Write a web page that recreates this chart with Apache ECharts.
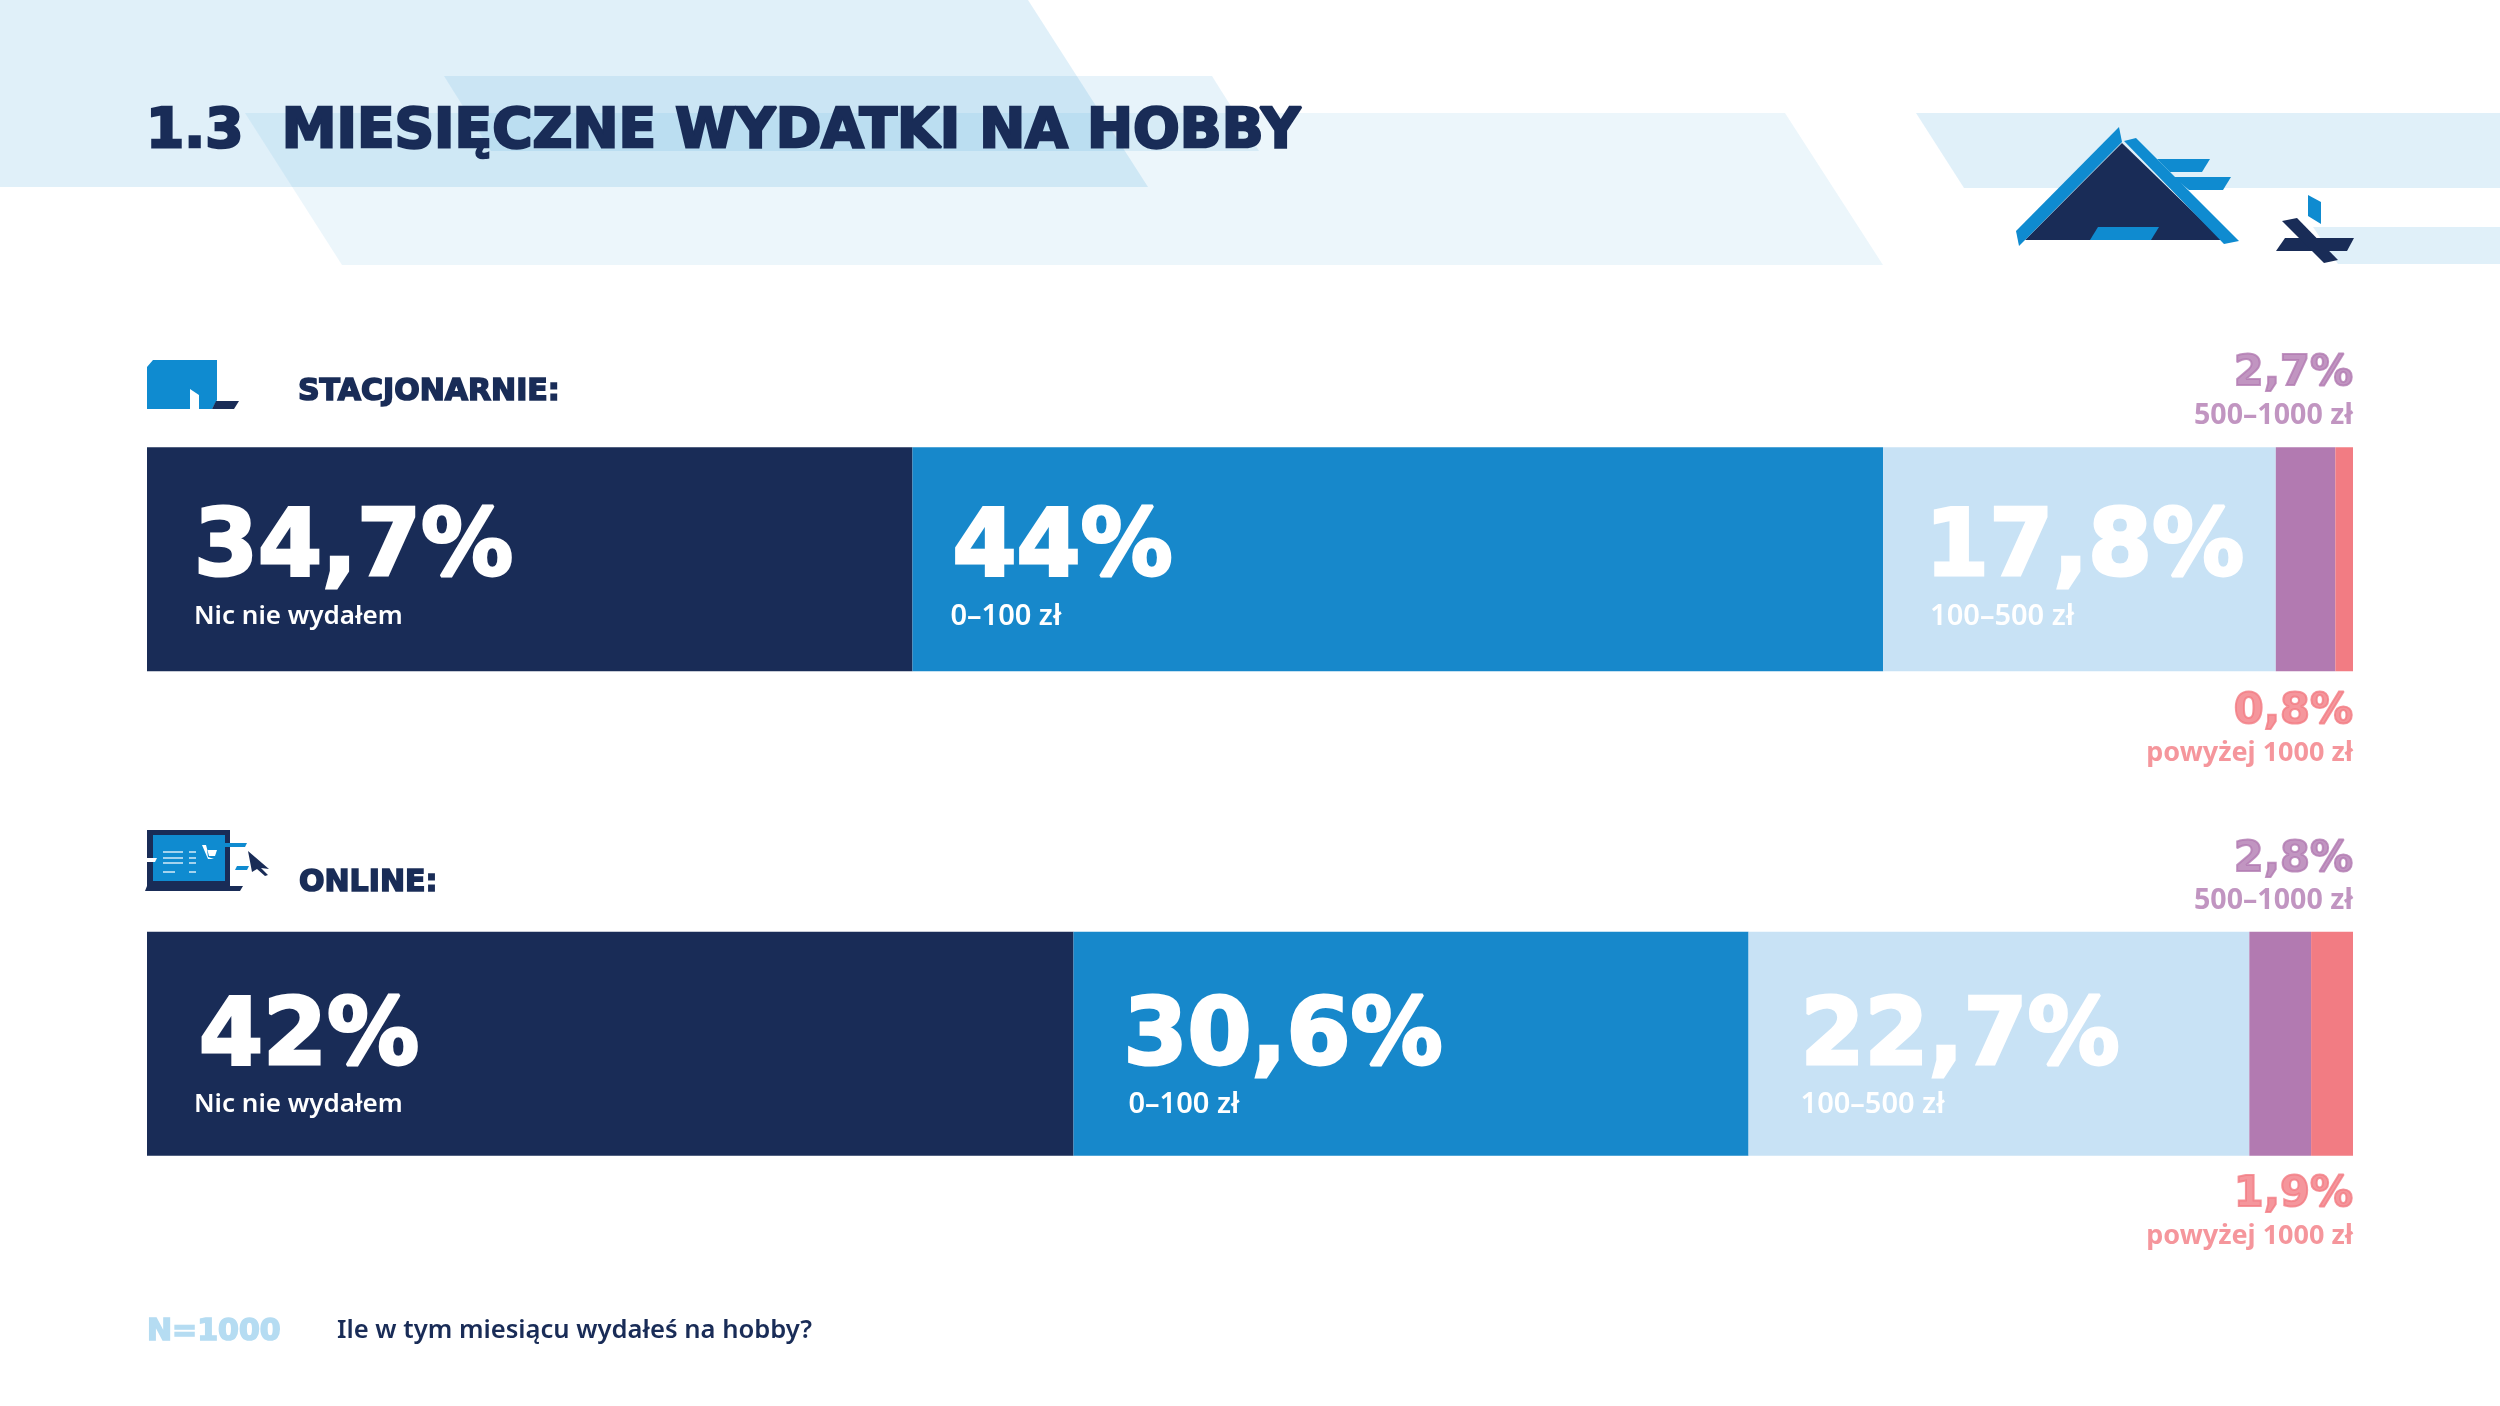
<!DOCTYPE html>
<html>
<head>
<meta charset="utf-8">
<style>html,body{margin:0;padding:0;background:#fff}#chart{width:2500px;height:1406px}</style>
<script src="https://cdn.jsdelivr.net/npm/echarts@6/dist/echarts.min.js"></script>
</head>
<body>
<div id="chart"></div>
<script>
const chartTitle = '1.3  MIESIĘCZNE WYDATKI NA HOBBY';
const rows = ['STACJONARNIE:', 'ONLINE:'];
const rangeNames = ['Nic nie wydałem', '0–100 zł', '100–500 zł', '500–1000 zł', 'powyżej 1000 zł'];
const stacjonarnie = [34.7, 44, 17.8, 2.7, 0.8];
const online = [42, 30.6, 22.7, 2.8, 1.9];
const sampleText = 'N=1000';
const questionText = 'Ile w tym miesiącu wydałeś na hobby?';

const colors = ['#192c57', '#1788cb', '#c8e2f5', '#b27ab1', '#f27c83'];
const NAVY = '#192c57';
const ICON_BLUE = '#0f8bd0';
const DISPLAY_FONT = '"DejaVu Sans"';
const BODY_FONT = '"Noto Sans"';

// odleglosc etykiety od lewej krawedzi segmentu: [wiersz][segment]
const labelInset = [[47, 38, 42], [47, 50, 52]];
// wciecia liczby i podpisu wewnatrz etykiety
const valueIndent = [[0, 2, 0], [5, 0, 0]];
const subIndent = [[0, 0, 5], [0, 5, 0]];
const labelShift = [13, 17];
// przesuniecie etykiet nad i pod paskiem wzgledem srodka paska
const purpleOffset = [-163, -162];
const pinkOffset = [175, 173];

const fmt = (v) => String(v).replace('.', ',') + '%';
const values = [stacjonarnie, online];

function poly(points, fill) {
    return { type: 'polygon', silent: true, shape: { points }, style: { fill } };
}
function line(x1, x2, y) {
    return { type: 'line', silent: true, shape: { x1, y1: y, x2, y2: y }, style: { stroke: '#e6f2fb', lineWidth: 1.4 } };
}
function text(x, y, value, font, fill, border) {
    return {
        type: 'text', silent: true, x, y,
        style: { text: value, font, fill, stroke: border ? fill : null, lineWidth: border || 0, align: 'left', verticalAlign: 'middle' }
    };
}

const background = [
    poly([[0, 0], [1028, 0], [1148, 187], [0, 187]], 'rgba(15,139,208,0.13)'),
    poly([[245, 113], [1785, 113], [1883, 265], [342, 265]], 'rgba(15,139,208,0.08)'),
    poly([[444, 76], [1212, 76], [1259, 151], [491, 151]], 'rgba(15,139,208,0.1)'),
    poly([[1916, 113], [2500, 113], [2500, 188], [1964, 188]], 'rgba(15,139,208,0.13)'),
    poly([[2313, 227], [2500, 227], [2500, 264], [2338, 264]], 'rgba(15,139,208,0.13)')
];

const houseIcon = [
    poly([[2122, 143], [2222, 240], [2025, 240]], NAVY),
    poly([[2119, 127], [2122, 142], [2025, 240], [2019, 246], [2016, 231]], ICON_BLUE),
    poly([[2124, 141], [2136, 138], [2239, 241], [2224, 244]], ICON_BLUE),
    poly([[2157, 159], [2210, 159], [2202, 172], [2170, 172]], ICON_BLUE),
    poly([[2173, 177], [2231, 177], [2223, 190], [2189, 190]], ICON_BLUE),
    poly([[2098, 227], [2159, 227], [2151, 240], [2090, 240]], ICON_BLUE),
    poly([[2308, 195], [2321, 202], [2321, 224], [2308, 216]], ICON_BLUE),
    poly([[2285, 238], [2354, 238], [2347, 251], [2276, 251]], NAVY),
    poly([[2282, 221], [2297, 218], [2338, 260], [2324, 263]], NAVY)
];

const shopIcon = [
    poly([[147, 367], [153, 360], [217, 360], [217, 400], [212, 409], [199, 409], [199, 395], [190, 389], [190, 409], [147, 409]], ICON_BLUE),
    poly([[216, 401], [239, 401], [234, 409], [212, 409]], NAVY)
];

const laptopIcon = [
    poly([[147, 830], [230, 830], [230, 886], [243, 886], [240, 891], [145, 891], [147, 886]], NAVY),
    poly([[153, 835], [225, 835], [225, 881], [153, 881]], ICON_BLUE),
    poly([[147, 858], [157, 858], [155, 862], [147, 862]], '#fff'),
    poly([[225, 843], [247, 843], [245, 847], [225, 847]], ICON_BLUE),
    poly([[237, 866], [249, 866], [247, 870], [235, 870]], ICON_BLUE),
    poly([[248, 851], [269, 869], [261, 868], [268, 875], [265, 876], [257, 869], [252, 872]], NAVY),
    line(163, 183, 852), line(163, 183, 858), line(163, 183, 863), line(163, 175, 872),
    line(189, 196, 852), line(189, 196, 858), line(189, 196, 863), line(189, 196, 872),
    poly([[202, 845], [206, 845], [209, 856], [215, 856], [217, 850], [207, 850], [208, 857], [214, 859], [208, 859]], '#fff')
];

const texts = [
    text(298, 392, rows[0], `bold 30px ${DISPLAY_FONT}`, NAVY, 1.6),
    text(299, 883, rows[1], `bold 30px ${DISPLAY_FONT}`, NAVY, 1.6),
    text(147, 1332, sampleText, `bold 30px ${DISPLAY_FONT}`, '#b5dcf2', 1.6),
    text(337, 1331, questionText, `600 25.6px ${BODY_FONT}`, NAVY)
];

const stackSeries = colors.map((color, seg) => ({
    type: 'bar',
    stack: 'total',
    barWidth: 224,
    itemStyle: { color },
    silent: true,
    data: values.map((row, r) => ({
        value: row[seg],
        label: seg < 3 ? {
            show: true,
            position: 'insideLeft',
            distance: labelInset[r][seg],
            offset: [0, labelShift[r]],
            formatter: `{val|${fmt(row[seg])}}\n{sub|${rangeNames[seg]}}`,
            rich: {
                val: {
                    fontFamily: DISPLAY_FONT, fontWeight: 'bold', fontSize: 92, lineHeight: 88, color: '#fff',
                    textBorderColor: '#fff', textBorderWidth: 3, padding: [0, 0, 0, valueIndent[r][seg]]
                },
                sub: {
                    fontFamily: BODY_FONT, fontWeight: 600, fontSize: seg === 0 ? 26 : 29, lineHeight: 42, color: '#fff',
                    padding: [0, 0, 0, subIndent[r][seg]]
                }
            }
        } : { show: false }
    }))
}));

// etykiety malych segmentow, wyrownane do prawej krawedzi calego paska
function outsideLabels(seg, offsets) {
    return {
        type: 'scatter',
        symbolSize: 0,
        silent: true,
        data: values.map((row, r) => ({
            value: [100, r],
            label: {
                show: true,
                position: 'inside',
                align: 'right',
                verticalAlign: 'middle',
                offset: [0, offsets[r]],
                formatter: `{val|${fmt(row[seg])}}\n{sub|${rangeNames[seg]}}`,
                rich: {
                    val: {
                        fontFamily: DISPLAY_FONT, fontWeight: 'bold', fontSize: 43, lineHeight: 39, color: colors[seg],
                        textBorderColor: colors[seg], textBorderWidth: 2, align: 'right'
                    },
                    sub: { fontFamily: BODY_FONT, fontWeight: 700, fontSize: seg === 3 ? 28.6 : 27, lineHeight: 44, color: colors[seg], align: 'right' }
                }
            }
        }))
    };
}

const chart = echarts.init(document.getElementById('chart'));
chart.setOption({
    animation: false,
    backgroundColor: '#fff',
    title: {
        text: chartTitle,
        left: 141,
        top: 100,
        textStyle: {
            fontFamily: DISPLAY_FONT, fontWeight: 'bold', fontSize: 55, color: NAVY,
            textBorderColor: NAVY, textBorderWidth: 2.5
        }
    },
    grid: { left: 147, width: 2206, top: 317, height: 969 },
    xAxis: { type: 'value', min: 0, max: 100, show: false },
    yAxis: { type: 'category', inverse: true, show: false, data: rows },
    graphic: [...background, ...houseIcon, ...shopIcon, ...laptopIcon, ...texts],
    series: [...stackSeries, outsideLabels(3, purpleOffset), outsideLabels(4, pinkOffset)]
});
</script>
</body>
</html>
